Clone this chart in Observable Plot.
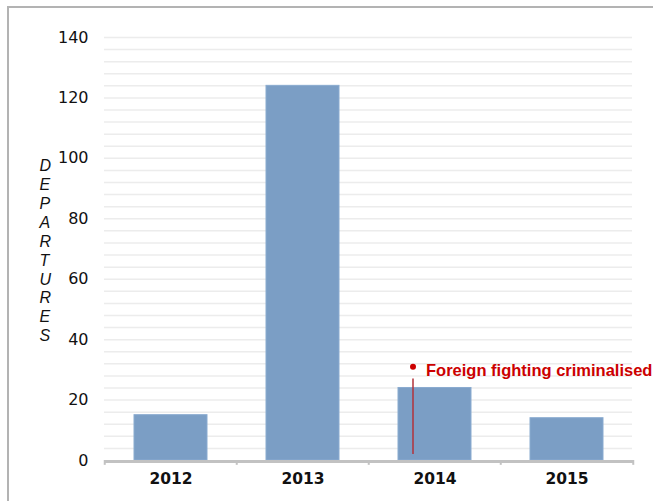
<!DOCTYPE html>
<html><head><meta charset="utf-8">
<script src="https://cdn.jsdelivr.net/npm/d3@7"></script>
<script src="https://cdn.jsdelivr.net/npm/@observablehq/plot@0.6"></script>
<style>
body{margin:0;background:#fff;}
#wrap{position:relative;width:653px;height:501px;overflow:hidden;}
#border{position:absolute;left:7px;top:6px;right:-2px;bottom:-2px;border-left:2px solid #b3b3b3;border-top:2px solid #b3b3b3;pointer-events:none;}
#wrap svg{position:absolute;left:0;top:0;}
</style></head><body><div id="wrap"><div id="border"></div></div>
<script>
const years = ["2012", "2013", "2014", "2015"];
const departures = [15, 124, 24, 14];
const yTickValues = [0, 20, 40, 60, 80, 100, 120, 140];
const gridValues = d3.range(4, 141, 4);
const yLabel = "DEPARTURES";
const annotationYear = "2014";
const annotationValue = 31;
const annotationLineTop = 27;
const annotationLineBottom = 2;
const annotationText = "Foreign fighting criminalised";

const data = years.map((y, i) => ({year: y, value: departures[i]}));
const axisFont = "'DejaVu Sans', sans-serif";
const textFont = "'Liberation Sans', Arial, sans-serif";
const step = (634 - 104) / years.length;

const chart = Plot.plot({
  width: 653,
  height: 501,
  marginLeft: 104,
  marginRight: 19,
  marginTop: 37,
  marginBottom: 41,
  style: {fontFamily: axisFont, background: "transparent", overflow: "visible"},
  x: {domain: years, paddingInner: 0.445, paddingOuter: 0.2225, label: null},
  y: {domain: [0, 140], label: null},
  marks: [
    Plot.ruleY(gridValues, {stroke: "#ececec", strokeWidth: 1.5, insetRight: 2}),
    Plot.barY(data, {x: "year", y: "value", fill: "#7b9ec5", stroke: "#8aabd0", strokeWidth: 1}),
    Plot.ruleY([0], {stroke: "#c2c2c2", strokeWidth: 3, dy: 1}),
    Plot.ruleX(years, {x: d => d, dx: -step / 2, y1: 0, y2: -1.6, stroke: "#c2c2c2", strokeWidth: 2}),
    Plot.ruleX([years[years.length - 1]], {x: d => d, dx: step / 2, y1: 0, y2: -1.6, stroke: "#c2c2c2", strokeWidth: 2}),
    Plot.axisY({ticks: yTickValues, tickSize: 0, tickPadding: 16, fontSize: 16, fill: "#111"}),
    Plot.axisX({tickSize: 0, tickPadding: 12, fontSize: 15.5, fontWeight: "bold", fill: "#111"}),
    Plot.text([yLabel.split("").join("\n")], {frameAnchor: "left", dx: -65, y: 69.6, text: d => d, fontSize: 16, fontFamily: textFont, fontStyle: "italic", lineHeight: 1.18, fill: "#111"}),
    Plot.ruleX([annotationYear], {x: d => d, dx: -22, y1: annotationLineBottom, y2: annotationLineTop, stroke: "#b2323a", strokeWidth: 1.5}),
    Plot.dot([annotationYear], {x: d => d, y: annotationValue, dx: -22, r: 3, fill: "#cc0000"}),
    Plot.text([annotationText], {x: () => annotationYear, y: 29.6, dx: -9, text: d => d, textAnchor: "start", fontSize: 16.5, fontFamily: textFont, fontWeight: "bold", fill: "#cc0000"})
  ]
});
document.getElementById("wrap").appendChild(chart);
</script>
</body></html>
